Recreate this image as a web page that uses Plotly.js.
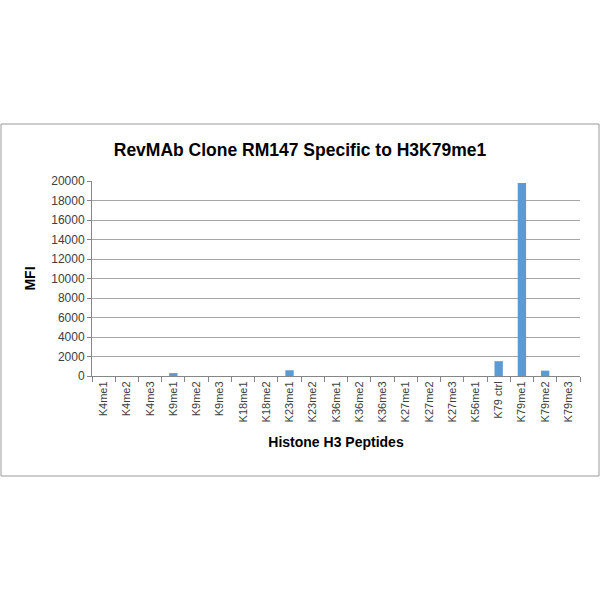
<!DOCTYPE html>
<html>
<head>
<meta charset="utf-8">
<script src="https://cdn.plot.ly/plotly-3.0.1.min.js"></script>
<style>
  html, body { margin: 0; padding: 0; background: #ffffff; }
  #chart { width: 600px; height: 600px; }
</style>
</head>
<body>
<div id="chart"></div>
<script>
// Chart data
const peptides = [
  "K4me1", "K4me2", "K4me3", "K9me1", "K9me2", "K9me3", "K18me1", "K18me2",
  "K23me1", "K23me2", "K36me1", "K36me2", "K36me3", "K27me1", "K27me2",
  "K27me3", "K56me1", "K79 ctrl", "K79me1", "K79me2", "K79me3"
];
const mfi = [
  0, 0, 0, 300, 0, 0, 0, 0,
  590, 0, 0, 0, 0, 0, 0,
  0, 0, 1520, 19800, 550, 0
];
const yTicks = [0, 2000, 4000, 6000, 8000, 10000, 12000, 14000, 16000, 18000, 20000];

const chartTitle = "RevMAb Clone RM147 Specific to H3K79me1";
const xTitle = "Histone H3 Peptides";
const yTitle = "MFI";

/* ---------- Layout ---------- */

const W = 600, H = 600;
const margin = { l: 92, r: 20, t: 181, b: 224 };
const plotW = W - margin.l - margin.r;
const plotH = H - margin.t - margin.b;

// outer frame around the whole chart, in pixels
const frame = { left: 1, right: 599, top: 124, bottom: 476 };
const px2x = (px) => (px - margin.l) / plotW;
const px2y = (py) => (H - margin.b - py) / plotH;

const gridGrey = "#a6a6a6";
const textGrey = "#404040";

const traces = [{
  type: "bar",
  x: peptides,
  y: mfi,
  marker: { color: "#5b9bd5" },
  hoverinfo: "x+y"
}];

const layout = {
  width: W,
  height: H,
  margin: margin,
  paper_bgcolor: "#ffffff",
  plot_bgcolor: "#ffffff",
  showlegend: false,
  bargap: 0.64,
  font: { family: "Liberation Sans, Arial, sans-serif", color: textGrey },
  title: {
    text: "<b>" + chartTitle + "</b>",
    font: { size: 17.5, color: "#000000", family: "Liberation Sans, Arial, sans-serif" },
    xref: "container", x: 0.5, xanchor: "center",
    yref: "container", y: 1 - 150 / H, yanchor: "middle"
  },
  xaxis: {
    type: "category",
    tickangle: -90,
    tickfont: { size: 11, color: textGrey },
    ticks: "outside",
    tickson: "boundaries",
    ticklen: 5,
    tickcolor: "#868686",
    showline: true,
    linecolor: "#868686",
    showgrid: false,
    automargin: false,
    title: {
      text: "<b>" + xTitle + "</b>",
      font: { size: 14, color: "#000000" },
      standoff: 15
    }
  },
  yaxis: {
    range: [0, 20000],
    tickvals: yTicks,
    ticktext: yTicks.map(String),
    tickfont: { size: 12, color: textGrey },
    ticks: "outside",
    ticklen: 4,
    tickcolor: "#868686",
    showline: true,
    linecolor: "#868686",
    showgrid: true,
    gridcolor: gridGrey,
    gridwidth: 1,
    zeroline: false,
    automargin: false,
    title: {
      text: "<b>" + yTitle + "</b>",
      font: { size: 14, color: "#000000" },
      standoff: 12
    }
  },
  shapes: [{
    type: "rect",
    xref: "paper", yref: "paper",
    x0: px2x(frame.left), x1: px2x(frame.right),
    y0: px2y(frame.bottom), y1: px2y(frame.top),
    line: { color: "#9a9a9a", width: 1 },
    fillcolor: "rgba(0,0,0,0)",
    layer: "below"
  }]
};

Plotly.newPlot("chart", traces, layout, { displayModeBar: false, staticPlot: true });
</script>
</body>
</html>
